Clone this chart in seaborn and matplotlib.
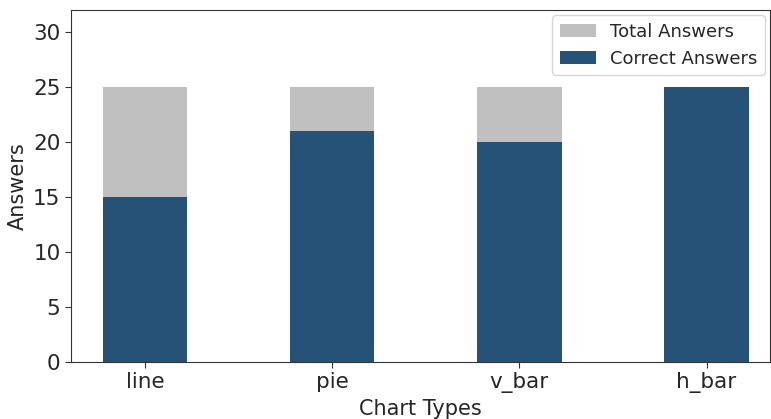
import matplotlib
matplotlib.use("Agg")
import matplotlib.pyplot as plt
import seaborn as sns
import pandas as pd

categories = ["line", "pie", "v_bar", "h_bar"]
total_answers = [25, 25, 25, 25]
correct_answers = [15, 21, 20, 25]

df = pd.DataFrame({"Chart Type": categories, "Total": total_answers, "Correct": correct_answers})

sns.set_style("white")
plt.rcParams['font.family'] = ['DejaVu Sans']

fig, ax = plt.subplots(figsize=(7.71, 4.19), dpi=100)
sns.barplot(data=df, x="Chart Type", y="Total", color="#c0c0c0", width=0.45,
            label="Total Answers", ax=ax, saturation=1, linewidth=0)
sns.barplot(data=df, x="Chart Type", y="Correct", color="#275278", width=0.45,
            label="Correct Answers", ax=ax, saturation=1, linewidth=0)

ax.set_ylim(0, 32)
ax.set_xlim(-0.396, 3.34)
ax.set_xlabel("Chart Types", fontsize=15)
ax.set_ylabel("Answers", fontsize=15)
ax.tick_params(axis="both", labelsize=15.5, length=4, color="#333333")
ax.tick_params(axis="both", which="both", bottom=True, left=True)
for s in ax.spines.values():
    s.set_color("#333333")
    s.set_linewidth(0.8)
ax.legend(loc="upper right", fontsize=13, frameon=True, borderaxespad=0.3)

fig.subplots_adjust(left=0.092, right=0.999, top=0.976, bottom=0.136)
fig.savefig("out.png", dpi=100)
